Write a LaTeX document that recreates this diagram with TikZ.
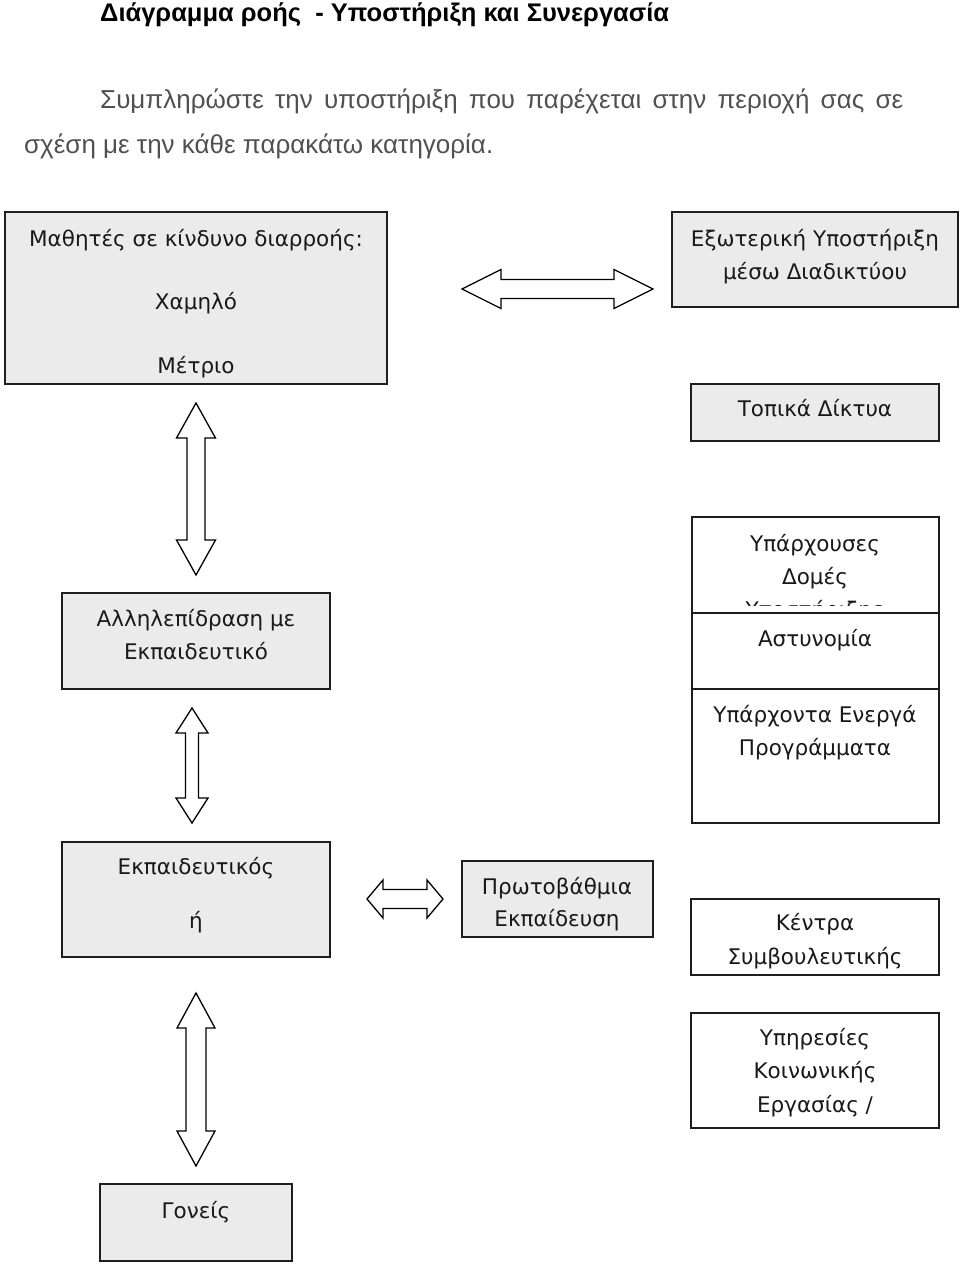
\documentclass[tikz,border=0pt]{standalone}
\usepackage{fontspec}
\setmainfont{Liberation Sans}
\newfontfamily\boxfont{DejaVu Sans}
\usetikzlibrary{fit}
\definecolor{boxgray}{RGB}{235,235,235}
\definecolor{paragray}{RGB}{80,80,80}
\definecolor{edgecol}{RGB}{30,30,30}
\newcommand\hArrow[6]{%
  \draw[barrow] (#1,#3) -- (#1+#4,#3-#5) -- (#1+#4,#3-#6) -- (#2-#4,#3-#6) -- (#2-#4,#3-#5)
    -- (#2,#3) -- (#2-#4,#3+#5) -- (#2-#4,#3+#6) -- (#1+#4,#3+#6) -- (#1+#4,#3+#5) -- cycle;}
\newcommand\vArrow[6]{%
  \draw[barrow] (#3,#1) -- (#3-#5,#1+#4) -- (#3-#6,#1+#4) -- (#3-#6,#2-#4) -- (#3-#5,#2-#4)
    -- (#3,#2) -- (#3+#5,#2-#4) -- (#3+#6,#2-#4) -- (#3+#6,#1+#4) -- (#3+#5,#1+#4) -- cycle;}
\begin{document}
\begin{tikzpicture}[x=1pt,y=-1pt,
  graybox/.style={draw=edgecol, line width=1.6pt, fill=boxgray, inner sep=0pt},
  whitebox/.style={draw=edgecol, line width=1.6pt, fill=white, inner sep=0pt},
  txt/.style={font=\boxfont\fontsize{21.5}{25}\selectfont, anchor=mid, inner sep=0pt, text=black!90, yshift=-2.5pt},
  barrow/.style={draw=black, line width=1.3pt, fill=white, line join=miter}]
\useasboundingbox (0,0) rectangle (960,1265);

% header
\node[anchor=base west, inner sep=0pt, font=\bfseries\fontsize{25.5}{28}\selectfont] (title) at (100,22)
  {Διάγραμμα ροής\ \ - Υποστήριξη και Συνεργασία};
\node[anchor=base west, inner sep=0pt, text=paragray, font=\fontsize{26}{30}\selectfont] (para1) at (100,109)
  {\makebox[803pt][s]{Συμπληρώστε την υποστήριξη που παρέχεται στην περιοχή σας σε}};
\node[anchor=base west, inner sep=0pt, text=paragray, font=\fontsize{26}{30}\selectfont] (para2) at (24,154)
  {σχέση με την κάθε παρακάτω κατηγορία.};

% boxes
\node[graybox, fit={(5,212) (387,384)}] (b1) {};
\node[graybox, fit={(672,212) (958,307)}] (b2) {};
\node[graybox, fit={(691,384) (939,441)}] (b3) {};
\node[graybox, fit={(62,593) (330,689)}] (b4) {};
\node[whitebox, fit={(692,517) (939,613)}] (b5a) {};
\node[whitebox, fit={(692,613) (939,689)}] (b5b) {};
\node[whitebox, fit={(692,689) (939,823)}] (b5c) {};
\node[graybox, fit={(62,842) (330,957)}] (b6) {};
\node[graybox, fit={(462,861) (653,937)}] (b7) {};
\node[whitebox, fit={(691,899) (939,975)}] (b8) {};
\node[whitebox, fit={(691,1013) (939,1128)}] (b9) {};
\node[graybox, fit={(100,1184) (292,1261)}] (b10) {};

% texts
\node[txt] (t1a) at (196,241) {Μαθητές σε κίνδυνο διαρροής:};
\node[txt] (t1b) at (196,304) {Χαμηλό};
\node[txt] (t1c) at (196,368) {Μέτριο};
\node[txt] (t2a) at (815,241) {Εξωτερική Υποστήριξη};
\node[txt] (t2b) at (815,274) {μέσω Διαδικτύου};
\node[txt] (t3) at (815,411) {Τοπικά Δίκτυα};
\node[txt] (t4a) at (196,621) {Αλληλεπίδραση με};
\node[txt] (t4b) at (196,654) {Εκπαιδευτικό};
\node[txt] (t5a) at (815,546) {Υπάρχουσες};
\node[txt] (t5b) at (815,579) {Δομές};
\begin{scope}
  \clip (693,518) rectangle (938,605);
  \node[txt] (t5c) at (815,612) {Υποστήριξης};
\end{scope}
\node[txt] (t5d) at (815,641) {Αστυνομία};
\node[txt] (t5e) at (815,717) {Υπάρχοντα Ενεργά};
\node[txt] (t5f) at (815,750) {Προγράμματα};
\node[txt] (t6a) at (196,869) {Εκπαιδευτικός};
\node[txt] (t6b) at (196,923) {ή};
\node[txt] (t7a) at (557,889) {Πρωτοβάθμια};
\node[txt] (t7b) at (557,921) {Εκπαίδευση};
\node[txt] (t8a) at (815,925) {Κέντρα};
\node[txt] (t8b) at (815,959) {Συμβουλευτικής};
\node[txt] (t9a) at (815,1040) {Υπηρεσίες};
\node[txt] (t9b) at (815,1073) {Κοινωνικής};
\node[txt] (t9c) at (815,1107) {Εργασίας /};
\node[txt] (t10) at (196,1213) {Γονείς};

% block arrows
\hArrow{462}{653}{289}{39}{19.5}{9.5}
\vArrow{403}{575}{196}{35}{19.5}{9}
\vArrow{708}{823}{192}{25}{16}{6.5}
\hArrow{367}{443}{899}{16}{19}{9.5}
\vArrow{993}{1166}{196}{35}{19}{10}
\end{tikzpicture}
\end{document}
